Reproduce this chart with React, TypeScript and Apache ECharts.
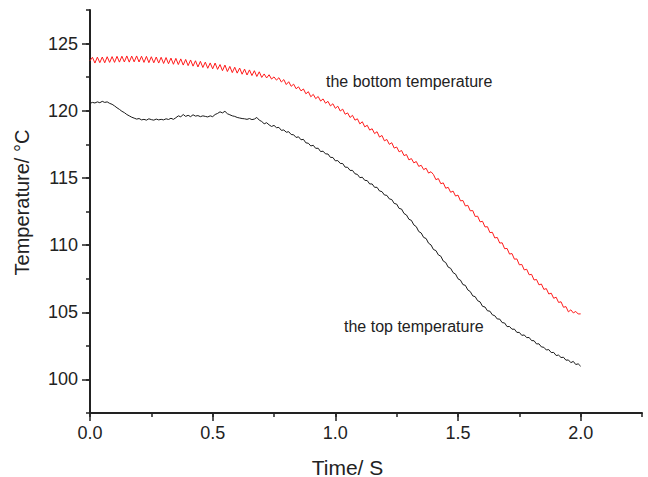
import React, { useEffect, useRef } from "react";
import * as echarts from "echarts";

// sampling step of both series (seconds)
const TIME_STEP = 0.01;

// the bottom temperature (red), one value every 0.01 s from 0.00 to 2.00 s
const bottomTemperature = [
  123.72, 123.98, 123.55, 123.99, 123.58, 124.0, 123.57, 124.02, 123.6, 124.03,
  123.6, 124.05, 123.62, 124.06, 123.63, 124.08, 123.62, 124.07, 123.64, 124.08,
  123.63, 124.06, 123.6, 124.05, 123.58, 124.02, 123.57, 124.0, 123.55, 123.98,
  123.52, 123.96, 123.5, 123.92, 123.46, 123.9, 123.44, 123.86, 123.4, 123.82,
  123.36, 123.78, 123.32, 123.72, 123.26, 123.68, 123.22, 123.62, 123.16, 123.56,
  123.12, 123.55, 123.08, 123.44, 122.98, 123.4, 122.92, 123.3, 122.84, 123.24,
  122.8, 123.18, 122.72, 123.1, 122.66, 123.04, 122.62, 122.98, 122.55, 122.9,
  122.48, 122.74, 122.44, 122.68, 122.36, 122.52, 122.28, 122.46, 122.14, 122.32,
  121.95, 122.16, 121.82, 121.98, 121.64, 121.78, 121.48, 121.62, 121.26, 121.42,
  121.04, 121.22, 120.9, 121.06, 120.72, 120.88, 120.56, 120.7, 120.36, 120.52,
  120.18, 120.34, 119.98, 120.12, 119.74, 119.84, 119.5, 119.66, 119.3, 119.4,
  119.02, 119.18, 118.8, 118.92, 118.56, 118.66, 118.3, 118.44, 118.04, 118.16,
  117.76, 117.86, 117.5, 117.62, 117.22, 117.3, 116.94, 117.04, 116.66, 116.74,
  116.34, 116.44, 116.12, 116.22, 115.86, 115.94, 115.62, 115.72, 115.36, 115.46,
  115.25, 114.87, 114.95, 114.57, 114.63, 114.23, 114.3, 113.93, 114.02, 113.65,
  113.72, 113.29, 113.32, 112.91, 112.96, 112.55, 112.57, 112.13, 112.15, 111.73,
  111.77, 111.35, 111.37, 110.93, 110.95, 110.53, 110.57, 110.15, 110.17, 109.73,
  109.75, 109.33, 109.37, 108.95, 108.97, 108.53, 108.56, 108.15, 108.2, 107.79,
  107.82, 107.4, 107.44, 107.04, 107.1, 106.7, 106.76, 106.36, 106.42, 106.04,
  106.12, 105.73, 105.78, 105.37, 105.42, 105.03, 105.18, 104.95, 105.06, 104.87,
  104.88,
];

// the top temperature (black), one value every 0.01 s from 0.00 to 2.00 s
const topTemperature = [
  120.55, 120.62, 120.58, 120.66, 120.6, 120.7, 120.62, 120.66, 120.55, 120.48,
  120.36, 120.22, 120.1, 119.96, 119.86, 119.72, 119.62, 119.52, 119.45, 119.38,
  119.42, 119.32, 119.36, 119.3, 119.4, 119.34, 119.3, 119.38, 119.32, 119.36,
  119.32, 119.4, 119.35, 119.44, 119.36, 119.48, 119.62, 119.55, 119.72, 119.58,
  119.66, 119.56, 119.7, 119.6, 119.64, 119.56, 119.62, 119.58, 119.54, 119.62,
  119.56, 119.72, 119.8, 119.92, 119.84, 119.96, 119.78, 119.7, 119.62, 119.58,
  119.5, 119.46, 119.42, 119.4, 119.36, 119.42, 119.34, 119.38, 119.5, 119.3,
  119.2, 119.03, 119.11, 118.95, 118.83, 118.91, 118.74, 118.76, 118.54, 118.57,
  118.4, 118.44, 118.23, 118.21, 118.01, 118.06, 117.84, 117.87, 117.61, 117.58,
  117.38, 117.43, 117.2, 117.21, 116.96, 116.99, 116.79, 116.78, 116.53, 116.52,
  116.27, 116.29, 116.08, 116.07, 115.8, 115.79, 115.56, 115.56, 115.31, 115.26,
  115.02, 115.05, 114.82, 114.8, 114.55, 114.55, 114.3, 114.3, 114.03, 113.98,
  113.73, 113.7, 113.44, 113.39, 113.1, 113.05, 112.73, 112.68, 112.35, 112.24,
  111.92, 111.84, 111.5, 111.37, 111.01, 110.9, 110.57, 110.49, 110.14, 110.01,
  109.67, 109.59, 109.27, 109.17, 108.81, 108.7, 108.36, 108.27, 107.95, 107.84,
  107.49, 107.39, 107.06, 107.0, 106.66, 106.54, 106.22, 106.16, 105.86, 105.77,
  105.44, 105.39, 105.11, 105.08, 104.81, 104.74, 104.5, 104.49, 104.23, 104.2,
  103.93, 103.94, 103.74, 103.74, 103.5, 103.5, 103.28, 103.31, 103.11, 103.12,
  102.89, 102.88, 102.64, 102.65, 102.42, 102.39, 102.19, 102.22, 102.0, 102.01,
  101.78, 101.81, 101.63, 101.65, 101.43, 101.45, 101.25, 101.34, 101.11, 101.16,
  100.98,
];

const xTickValues = [0, 0.5, 1, 1.5, 2];
const yTickValues = [100, 105, 110, 115, 120, 125];

const xTitle = "Time/ S";
const yTitle = "Temperature/ °C";
const bottomLabel = "the bottom temperature";
const topLabel = "the top temperature";

const FONT = "'Liberation Sans', Arial, Helvetica, sans-serif";
const INK = "#222";

export default function App() {
  const ref = useRef<HTMLDivElement>(null);

  useEffect(() => {
    if (!ref.current) return;
    const chart = echarts.init(ref.current, undefined, { renderer: "svg" });
    const toPairs = (arr: number[]) =>
      arr.map((v, i) => [Number((i * TIME_STEP).toFixed(2)), v]);

    const axisLineStyle = { color: INK, width: 2 };
    const tickStyle = { color: INK, width: 1.5 };

    chart.setOption({
      animation: false,
      backgroundColor: "#fff",
      grid: {
        left: 90,
        right: 6,
        top: 10,
        bottom: 64,
        containLabel: false,
        outerBoundsMode: "none",
      },
      xAxis: [
        {
          type: "value",
          min: 0,
          max: 2.25,
          interval: 0.5,
          axisLine: { onZero: false, lineStyle: axisLineStyle },
          axisTick: {
            customValues: xTickValues,
            length: 8,
            inside: false,
            lineStyle: tickStyle,
          },
          axisLabel: {
            customValues: xTickValues,
            formatter: (v: number) => v.toFixed(1),
            fontSize: 18,
            color: INK,
            fontFamily: FONT,
            margin: 11,
          },
          splitLine: { show: false },
        },
        {
          type: "value",
          min: 0,
          max: 2.25,
          interval: 0.25,
          position: "bottom",
          axisLine: { show: false, onZero: false },
          axisTick: { length: 4, inside: false, lineStyle: tickStyle },
          axisLabel: { show: false },
          splitLine: { show: false },
        },
      ],
      yAxis: [
        {
          type: "value",
          min: 97.5,
          max: 127.5,
          axisLine: { onZero: false, lineStyle: axisLineStyle },
          axisTick: {
            customValues: yTickValues,
            length: 8,
            inside: false,
            lineStyle: tickStyle,
          },
          axisLabel: {
            customValues: yTickValues,
            fontSize: 18,
            color: INK,
            fontFamily: FONT,
            margin: 12,
          },
          splitLine: { show: false },
        },
        {
          type: "value",
          min: 97.5,
          max: 127.5,
          interval: 2.5,
          position: "left",
          axisLine: { show: false, onZero: false },
          axisTick: { length: 4, inside: false, lineStyle: tickStyle },
          axisLabel: { show: false },
          splitLine: { show: false },
        },
      ],
      series: [
        {
          name: bottomLabel,
          type: "line",
          xAxisIndex: 0,
          yAxisIndex: 0,
          data: toPairs(bottomTemperature),
          showSymbol: false,
          symbol: "none",
          lineStyle: { color: "#ff1a1a", width: 1 },
          itemStyle: { color: "#ff1a1a" },
        },
        {
          name: topLabel,
          type: "line",
          xAxisIndex: 0,
          yAxisIndex: 0,
          data: toPairs(topTemperature),
          showSymbol: false,
          symbol: "none",
          lineStyle: { color: "#1a1a1a", width: 1 },
          itemStyle: { color: "#1a1a1a" },
        },
      ],
      graphic: [
        {
          type: "text",
          x: 326,
          y: 81,
          style: {
            text: bottomLabel,
            fontSize: 16,
            fontFamily: FONT,
            fill: INK,
            align: "left",
            verticalAlign: "middle",
          },
        },
        {
          type: "text",
          x: 344,
          y: 326,
          style: {
            text: topLabel,
            fontSize: 16,
            fontFamily: FONT,
            fill: INK,
            align: "left",
            verticalAlign: "middle",
          },
        },
        {
          type: "text",
          x: 347.5,
          y: 467,
          style: {
            text: xTitle,
            fontSize: 21,
            fontFamily: FONT,
            fill: INK,
            align: "center",
            verticalAlign: "middle",
          },
        },
        {
          type: "text",
          x: 21.5,
          y: 202.5,
          rotation: Math.PI / 2,
          style: {
            text: yTitle,
            fontSize: 20,
            fontFamily: FONT,
            fill: INK,
            align: "center",
            verticalAlign: "middle",
          },
        },
      ],
    });

    return () => {
      chart.dispose();
    };
  }, []);

  return (
    <div
      ref={ref}
      style={{
        position: "fixed",
        left: 0,
        top: 0,
        width: 648,
        height: 477,
        background: "#fff",
      }}
    />
  );
}
